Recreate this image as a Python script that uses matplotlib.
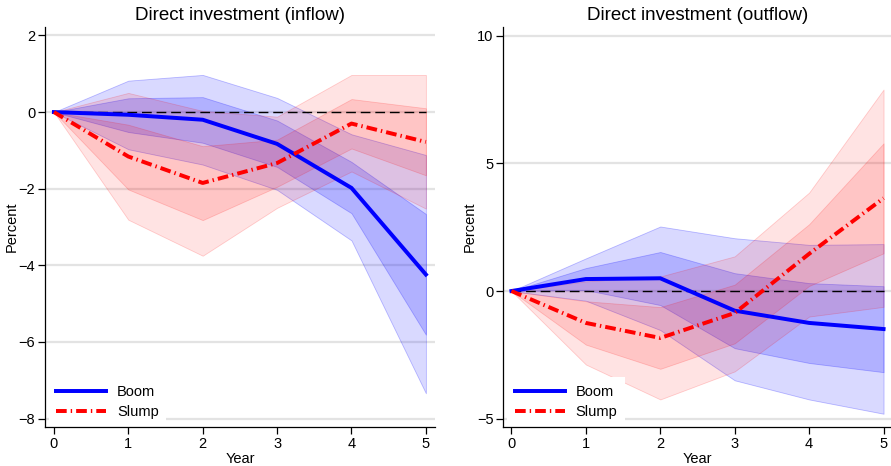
import matplotlib
matplotlib.use("Agg")
import matplotlib.pyplot as plt

plt.rcParams["font.family"] = ["Liberation Sans", "DejaVu Sans"]
plt.rcParams["lines.scale_dashes"] = False

years = [0, 1, 2, 3, 4, 5]

# Direct investment (inflow): point estimates and confidence bands
boom_in = [0, -0.07, -0.20, -0.83, -1.98, -4.24]
boom_in_lo68 = [0, -0.52, -0.80, -1.43, -2.64, -5.81]
boom_in_hi68 = [0, 0.36, 0.39, -0.22, -1.30, -2.66]
boom_in_lo95 = [0, -0.97, -1.37, -2.03, -3.35, -7.34]
boom_in_hi95 = [0, 0.82, 0.97, 0.37, -0.58, -1.12]

slump_in = [0, -1.16, -1.85, -1.33, -0.30, -0.78]
slump_in_lo68 = [0, -2.02, -2.82, -1.95, -0.95, -1.65]
slump_in_hi68 = [0, -0.33, -0.89, -0.72, 0.34, 0.10]
slump_in_lo95 = [0, -2.81, -3.75, -2.50, -1.55, -2.52]
slump_in_hi95 = [0, 0.50, 0.03, -0.12, 0.97, 0.97]

# Direct investment (outflow)
boom_out = [0, 0.47, 0.50, -0.77, -1.25, -1.49]
boom_out_lo68 = [0, 0.04, -0.55, -2.24, -2.82, -3.18]
boom_out_hi68 = [0, 0.90, 1.53, 0.70, 0.31, 0.19]
boom_out_lo95 = [0, -0.38, -1.53, -3.50, -4.25, -4.81]
boom_out_hi95 = [0, 1.28, 2.53, 2.07, 1.81, 1.84]

slump_out = [0, -1.25, -1.84, -0.86, 1.46, 3.64]
slump_out_lo68 = [0, -2.10, -3.05, -2.05, 0.20, 1.48]
slump_out_hi68 = [0, -0.40, -0.63, 0.25, 2.62, 5.79]
slump_out_lo95 = [0, -2.88, -4.25, -3.15, -1.00, -0.62]
slump_out_hi95 = [0, 0.38, 0.57, 1.36, 3.86, 7.90]

titles = ["Direct investment (inflow)", "Direct investment (outflow)"]
yticks_in = [2, 0, -2, -4, -6, -8]
yticks_out = [10, 5, 0, -5]

BLUE = "#0000ff"
RED = "#ff0000"
GRID = "#e3e3e3"

fig = plt.figure(figsize=(8.91, 4.66), dpi=100)
ax1 = fig.add_axes([0.0505, 0.0837, 0.4375, 0.8583])
ax2 = fig.add_axes([0.565, 0.0837, 0.435, 0.8583])


def draw_panel(ax, title, boom, blo68, bhi68, blo95, bhi95,
               slump, slo68, shi68, slo95, shi95, yticks, ylim, xlim):
    for y in yticks:
        ax.axhline(y, color=GRID, lw=1.6, zorder=0)
    # boom bands
    ax.fill_between(years, blo95, bhi95, facecolor=(0, 0, 1, 0.15),
                    edgecolor=(0, 0, 1, 0.25), lw=0.6, zorder=1)
    ax.fill_between(years, blo68, bhi68, facecolor=(0, 0, 1, 0.18),
                    edgecolor=(0, 0, 1, 0.25), lw=0.6, zorder=1)
    # slump bands
    ax.fill_between(years, slo95, shi95, facecolor=(1, 0, 0, 0.11),
                    edgecolor=(1, 0, 0, 0.18), lw=0.6, zorder=1)
    ax.fill_between(years, slo68, shi68, facecolor=(1, 0, 0, 0.13),
                    edgecolor=(1, 0, 0, 0.18), lw=0.6, zorder=1)
    ax.plot([years[0], years[-1]], [0, 0], color="black", lw=1.0,
            dashes=(7, 3.5), zorder=2)
    ax.plot(years, boom, color=BLUE, lw=2.85, label="Boom", zorder=3,
            solid_joinstyle="miter")
    ax.plot(years, slump, color=RED, lw=2.85, label="Slump", zorder=3,
            dashes=(7.7, 2.9, 1.0, 2.9), dash_capstyle="butt")
    ax.set_xlim(*xlim)
    ax.set_ylim(*ylim)
    ax.set_xticks(years)
    ax.set_yticks(yticks)
    ax.set_title(title, fontsize=13.5, pad=5)
    ax.set_xlabel("Year", fontsize=10.5, labelpad=1)
    ax.set_ylabel("Percent", fontsize=10.5, labelpad=0)
    for s in ["top", "right"]:
        ax.spines[s].set_visible(False)
    for s in ["left", "bottom"]:
        ax.spines[s].set_linewidth(0.9)
        ax.spines[s].set_zorder(10)
    ax.tick_params(axis="both", direction="out", length=5, width=0.9,
                   labelsize=10.5, pad=2)
    # small offset so the legend box sits just right of the y axis
    inv = ax.transAxes.inverted()
    x0, y0 = ax.transAxes.transform((0, 0))
    ax_off = inv.transform((x0 + 4, y0 + 1))
    leg = ax.legend(loc="lower left", bbox_to_anchor=tuple(ax_off),
                    borderaxespad=0, frameon=True, fancybox=False,
                    framealpha=1, facecolor="white", edgecolor="none",
                    handlelength=3.43, handletextpad=0.75, labelspacing=0.41,
                    borderpad=0.5, fontsize=10.5)
    leg.set_zorder(6)


draw_panel(ax1, titles[0], boom_in, boom_in_lo68, boom_in_hi68,
           boom_in_lo95, boom_in_hi95, slump_in, slump_in_lo68,
           slump_in_hi68, slump_in_lo95, slump_in_hi95,
           yticks_in, (-8.22, 2.22), (-0.12, 5.12))
draw_panel(ax2, titles[1], boom_out, boom_out_lo68, boom_out_hi68,
           boom_out_lo95, boom_out_hi95, slump_out, slump_out_lo68,
           slump_out_hi68, slump_out_lo95, slump_out_hi95,
           yticks_out, (-5.33, 10.35), (-0.108, 5.10))

fig.savefig("out.png", dpi=100)
